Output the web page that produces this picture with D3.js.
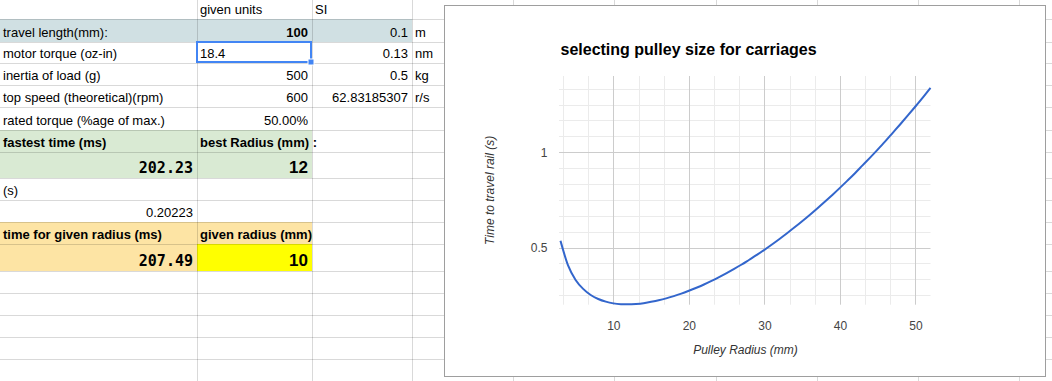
<!DOCTYPE html>
<html>
<head>
<meta charset="utf-8">
<script src="https://cdn.jsdelivr.net/npm/d3@7"></script>
<style>
  body { margin: 0; background: #fff; }
  svg { display: block; font-family: "Liberation Sans", Arial, sans-serif; }
  .cell { font-size: 13px; fill: #000; }
  .tick text { font-family: "Liberation Sans", Arial, sans-serif; font-size: 12px; fill: #444; }
</style>
</head>
<body>
<div id="chart"></div>
<script>
// pulley radius (mm) and time to travel the rail (s)
const radius = [3, 4, 5, 6, 7, 8, 9, 10, 11, 12, 13, 14, 15, 16, 17, 18, 19, 20, 21, 22,
  23, 24, 25, 26, 27, 28, 29, 30, 31, 32, 33, 34, 35, 36, 37, 38, 39, 40, 41, 42,
  43, 44, 45, 46, 47, 48, 49, 50, 51, 52];
const travelTime = [0.535, 0.406, 0.330, 0.283, 0.251, 0.230, 0.216, 0.207, 0.203, 0.202,
  0.204, 0.208, 0.215, 0.223, 0.233, 0.245, 0.258, 0.273, 0.289, 0.306,
  0.325, 0.345, 0.366, 0.388, 0.411, 0.436, 0.461, 0.488, 0.516, 0.545,
  0.575, 0.606, 0.638, 0.671, 0.705, 0.740, 0.776, 0.813, 0.851, 0.890,
  0.931, 0.972, 1.014, 1.057, 1.102, 1.147, 1.193, 1.240, 1.288, 1.338];

const xMajorTicks = [10, 20, 30, 40, 50];
const xMinorTicks = [3.333, 6.667, 13.333, 16.667, 23.333, 26.667, 33.333, 36.667, 43.333, 46.667];
const yMajorTicks = [0.5, 1];
const yMinorTicks = [0.25, 0.333, 0.417, 0.583, 0.667, 0.75, 0.833, 0.917, 1.083, 1.167, 1.25, 1.333];

const chartTitle = "selecting pulley size for carriages";
const xTitle = "Pulley Radius (mm)";
const yTitle = "Time to travel rail (s)";

// spreadsheet cells: [row, col, text, style]
const sheetCells = [
  [0, 1, "given units", ""], [0, 2, "SI", ""],
  [1, 0, "travel length(mm):", ""], [1, 1, "100", "num bold"], [1, 2, "0.1", "num"], [1, 3, "m", ""],
  [2, 0, "motor torque (oz-in)", ""], [2, 1, "18.4", ""], [2, 2, "0.13", "num"], [2, 3, "nm", ""],
  [3, 0, "inertia of load (g)", ""], [3, 1, "500", "num"], [3, 2, "0.5", "num"], [3, 3, "kg", ""],
  [4, 0, "top speed (theoretical)(rpm)", ""], [4, 1, "600", "num"], [4, 2, "62.83185307", "num"], [4, 3, "r/s", ""],
  [5, 0, "rated torque (%age of max.)", ""], [5, 1, "50.00%", "num"],
  [6, 0, "fastest time (ms)", "bold"], [6, 1, "best Radius (mm) :", "bold"],
  [7, 0, "202.23", "num mono"], [7, 1, "12", "num big"],
  [8, 0, "(s)", ""],
  [9, 0, "0.20223", "num"],
  [10, 0, "time for given radius (ms)", "bold"], [10, 1, "given radius (mm)", "bold"],
  [11, 0, "207.49", "num mono"], [11, 1, "10", "num big"]
];

const W = 1052, H = 381;
const rowLines = [0, 19, 42, 63, 85, 107, 130, 152, 178, 200, 222, 244, 271, 293, 315, 337, 359, 381];
const colLines = [0, 197, 312, 412, 513, 614, 716, 817, 918, 1019, 1120];

const svg = d3.select("#chart").append("svg")
    .attr("width", W)
    .attr("height", H);

// cell fills
const fills = [
  {x0: 0, x1: 412, r0: 1, r1: 2, c: "#d0e0e3"},
  {x0: 0, x1: 312, r0: 6, r1: 8, c: "#d9ead3"},
  {x0: 0, x1: 312, r0: 10, r1: 12, c: "#fde4a4"},
  {x0: 197, x1: 312, r0: 11, r1: 12, c: "#ffff00"}
];
svg.selectAll(".fill")
    .data(fills)
    .enter()
    .append("rect")
    .attr("x", d => d.x0)
    .attr("y", d => rowLines[d.r0])
    .attr("width", d => d.x1 - d.x0)
    .attr("height", d => rowLines[d.r1] - rowLines[d.r0])
    .attr("fill", d => d.c);

// sheet gridlines
svg.selectAll(".hline")
    .data(rowLines.slice(1, -1))
    .enter()
    .append("line")
    .attr("x1", 0).attr("x2", W)
    .attr("y1", d => d + 0.5).attr("y2", d => d + 0.5)
    .attr("stroke", "rgba(0,0,0,0.15)");
svg.selectAll(".vline")
    .data(colLines.slice(1))
    .enter()
    .append("line")
    .attr("x1", d => d + 0.5).attr("x2", d => d + 0.5)
    .attr("y1", 0).attr("y2", H)
    .attr("stroke", "rgba(0,0,0,0.15)");

// cell text
svg.selectAll(".cell")
    .data(sheetCells)
    .enter()
    .append("text")
    .attr("class", "cell")
    .attr("x", d => d[3].includes("num") ? colLines[d[1] + 1] - 4 : colLines[d[1]] + 3)
    .attr("y", d => rowLines[d[0] + 1] - 5)
    .attr("text-anchor", d => d[3].includes("num") ? "end" : "start")
    .style("font-weight", d => /bold|mono|big/.test(d[3]) ? "bold" : null)
    .style("font-family", d => d[3].includes("mono") ? "'DejaVu Sans Mono', monospace" : null)
    .style("font-size", d => d[3].includes("mono") ? "15px" : d[3].includes("big") ? "17px" : null)
    .text(d => d[2]);

// selected cell
svg.append("rect")
    .attr("x", 197).attr("y", 42)
    .attr("width", 114).attr("height", 20)
    .attr("fill", "none")
    .attr("stroke", "#4285f4")
    .attr("stroke-width", 2);
svg.append("rect")
    .attr("x", 308).attr("y", 59)
    .attr("width", 6).attr("height", 6)
    .attr("fill", "#4285f4")
    .attr("stroke", "#fff")
    .attr("stroke-width", 1);

// chart box
const box = {x: 444, y: 5, w: 601, h: 371};
svg.append("rect")
    .attr("x", box.x + 0.5).attr("y", box.y + 0.5)
    .attr("width", box.w).attr("height", box.h)
    .attr("fill", "#fff")
    .attr("stroke", "#9e9e9e");

const plot = {left: 560.5, right: 930.5, top: 76, bottom: 304.7};

const x = d3.scaleLinear()
    .domain([3, 52])
    .range([plot.left, plot.right]);

const y = d3.scaleLinear()
    .domain([0.2, 1.4])
    .range([plot.bottom, plot.top]);

const g = svg.append("g");

// minor grid
g.selectAll(".xminor")
    .data(xMinorTicks)
    .enter()
    .append("line")
    .attr("x1", d => Math.round(x(d)) + 0.5).attr("x2", d => Math.round(x(d)) + 0.5)
    .attr("y1", plot.top).attr("y2", plot.bottom)
    .attr("stroke", "#ebebeb");
g.selectAll(".yminor")
    .data(yMinorTicks)
    .enter()
    .append("line")
    .attr("x1", plot.left - 1.5).attr("x2", plot.right)
    .attr("y1", d => Math.round(y(d)) + 0.5).attr("y2", d => Math.round(y(d)) + 0.5)
    .attr("stroke", "#ebebeb");

// major grid
g.selectAll(".xmajor")
    .data(xMajorTicks)
    .enter()
    .append("line")
    .attr("x1", d => Math.round(x(d)) + 0.5).attr("x2", d => Math.round(x(d)) + 0.5)
    .attr("y1", plot.top).attr("y2", plot.bottom)
    .attr("stroke", "#cccccc");
g.selectAll(".ymajor")
    .data(yMajorTicks)
    .enter()
    .append("line")
    .attr("x1", plot.left - 1.5).attr("x2", plot.right)
    .attr("y1", d => Math.round(y(d)) + 0.5).attr("y2", d => Math.round(y(d)) + 0.5)
    .attr("stroke", "#cccccc");

// axes (labels only)
const xAxis = g.append("g")
    .attr("transform", `translate(0, ${plot.bottom})`)
    .call(d3.axisBottom(x).tickValues(xMajorTicks).tickSize(0).tickPadding(17));
xAxis.select(".domain").remove();

const yAxis = g.append("g")
    .attr("transform", `translate(${plot.left}, 0)`)
    .call(d3.axisLeft(y).tickValues(yMajorTicks).tickFormat(d3.format("~g")).tickSize(0).tickPadding(13));
yAxis.select(".domain").remove();

// curve
const line = d3.line()
    .x((d, i) => x(radius[i]))
    .y(d => y(d))
    .curve(d3.curveMonotoneX);

g.append("path")
    .datum(travelTime)
    .attr("d", line)
    .attr("fill", "none")
    .attr("stroke", "#3366cc")
    .attr("stroke-width", 2);

// titles
g.append("text")
    .attr("x", 560.5)
    .attr("y", 55)
    .style("font-size", "16px")
    .style("font-weight", "bold")
    .attr("fill", "#000")
    .text(chartTitle);

g.append("text")
    .attr("x", (plot.left + plot.right) / 2)
    .attr("y", 353.5)
    .attr("text-anchor", "middle")
    .style("font-size", "12px")
    .style("font-style", "italic")
    .attr("fill", "#333")
    .text(xTitle);

g.append("text")
    .attr("transform", "rotate(-90)")
    .attr("x", -(plot.top + plot.bottom) / 2)
    .attr("y", 493.5)
    .attr("text-anchor", "middle")
    .style("font-size", "12px")
    .style("font-style", "italic")
    .attr("fill", "#333")
    .text(yTitle);
</script>
</body>
</html>
